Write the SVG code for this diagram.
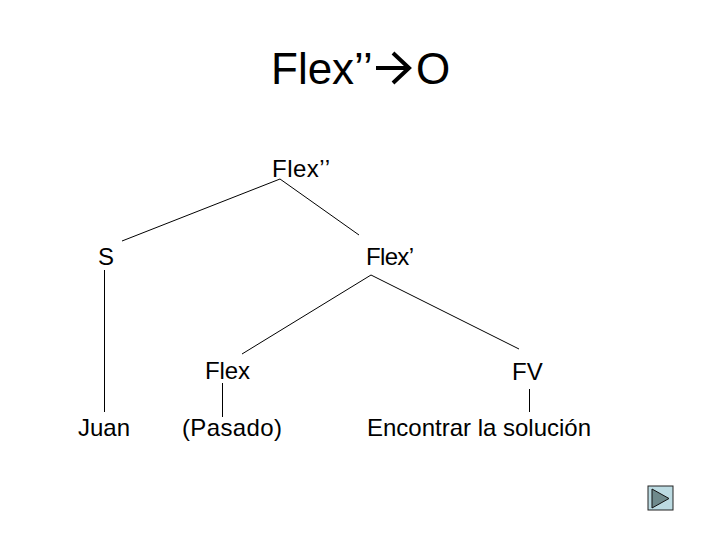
<svg xmlns="http://www.w3.org/2000/svg" width="720" height="540" viewBox="0 0 720 540">
<style>
text{font-family:"Liberation Sans",Arial,sans-serif;fill:#000}
.t{font-size:24px}
.c line{stroke:#000;stroke-width:1}
</style>
<rect width="720" height="540" fill="#fff"/>
<text x="271" y="84" font-size="44">Flex’’</text>
<text x="416" y="84" font-size="44">O</text>
<path d="M376 68H408M393 53L409 68L393 83" fill="none" stroke="#000" stroke-width="4"/>
<g class="c" id="connectors">
<line x1="280" y1="179" x2="122" y2="241"/>
<line x1="280" y1="179" x2="359" y2="235"/>
<line x1="104.500" y1="270" x2="104.500" y2="412"/>
<line x1="371" y1="275" x2="242" y2="354"/>
<line x1="371" y1="275" x2="519" y2="349"/>
<line x1="222.500" y1="383" x2="222.500" y2="417"/>
<line x1="529.500" y1="389" x2="529.500" y2="412"/>
</g>
<g id="n-flex2"><text class="t" x="272" y="177" textLength="58">Flex’’</text></g>
<g id="n-s"><text class="t" x="98" y="265">S</text></g>
<g id="n-flex1"><text class="t" x="366" y="265" textLength="48">Flex’</text></g>
<g id="n-flex"><text class="t" x="205" y="379" textLength="45">Flex</text></g>
<g id="n-fv"><text class="t" x="512" y="380">FV</text></g>
<g id="n-juan"><text class="t" x="78" y="436">Juan</text></g>
<g id="n-pasado"><text class="t" x="182" y="436" textLength="100">(Pasado)</text></g>
<g id="n-enc"><text class="t" x="367" y="436" textLength="224">Encontrar la solución</text></g>
<g id="btn">
<rect x="648" y="486" width="25" height="24" fill="#bcdbe2" stroke="#222"/>
<path d="M652 489L669 498.500L652 508Z" fill="#6f8a8c" stroke="#111"/>
</g>
</svg>
